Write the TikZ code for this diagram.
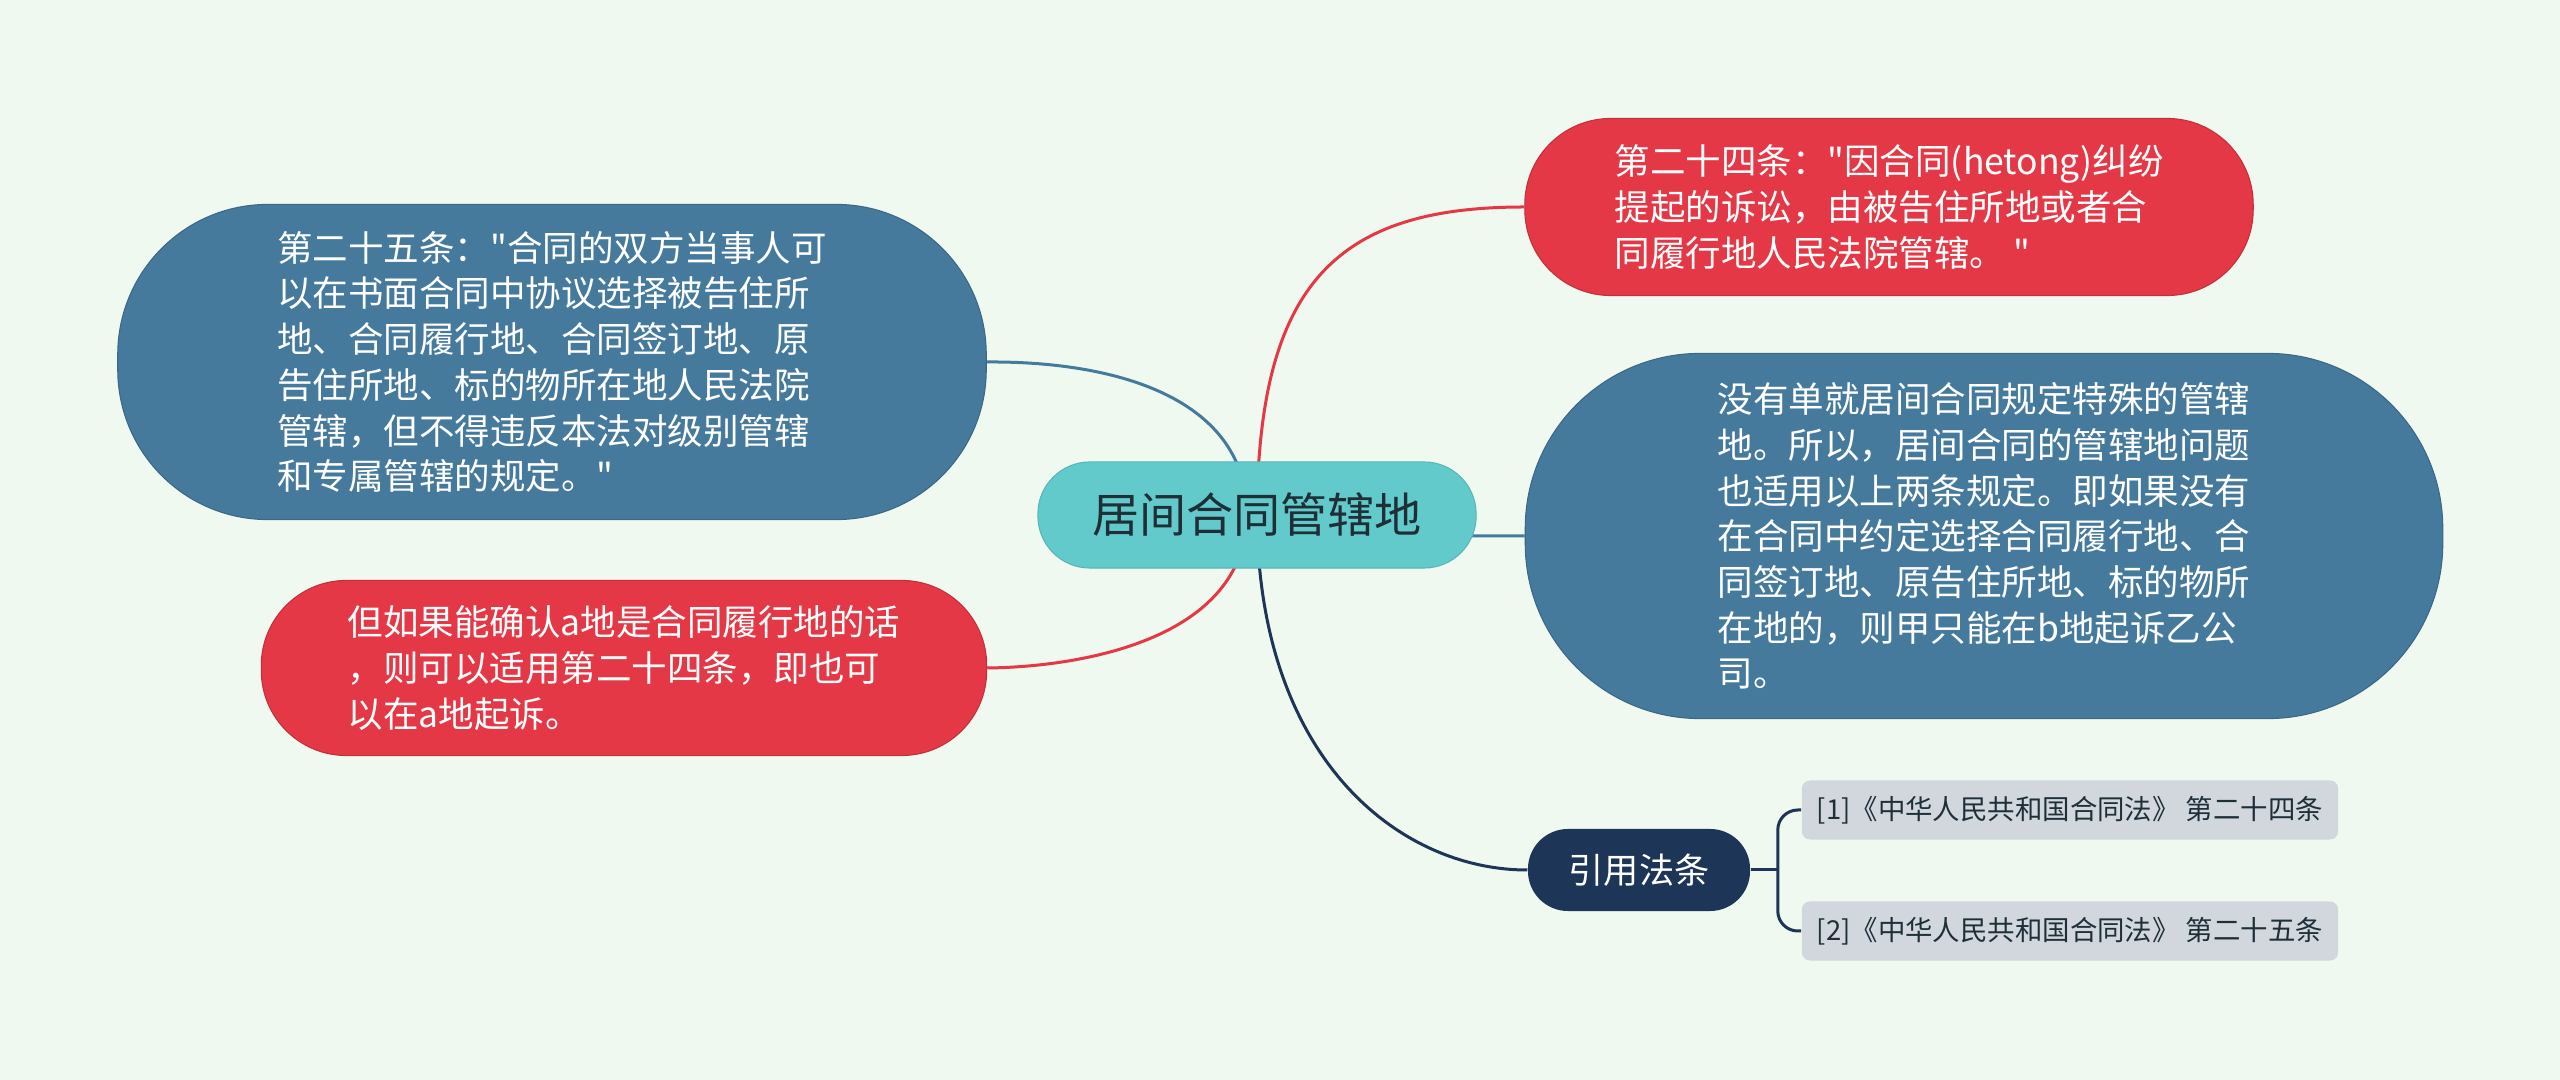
\documentclass[tikz,border=0pt]{standalone}
\usepackage{fontspec}
\setmainfont{Noto Sans CJK SC}[Ligatures=TeXOff]
\usepackage{tikz}
\usetikzlibrary{positioning, backgrounds}
\definecolor{bgmint}{HTML}{F0F9EF}
\definecolor{topicblue}{HTML}{457A9D}
\definecolor{topicred}{HTML}{E43846}
\definecolor{rootteal}{HTML}{63CACC}
\definecolor{citenavy}{HTML}{1D3557}
\definecolor{leafgray}{HTML}{D2D7DE}
\definecolor{darktext}{HTML}{1F2F38}
\tikzstyle{link} = [line width=0.03cm]
\newcommand{\bodyfont}{\fontsize{10.1}{13}\selectfont}

\begin{document}
\begin{tikzpicture}[x=0.01cm, y=-0.01cm,
    topic/.style={rectangle, fill=#1, draw=#1!85!black, line width=0.3pt,
                  text=white, font=\bodyfont, align=left, inner sep=0pt},
    leaf/.style={rectangle, rounded corners=0.08cm, fill=leafgray, text=darktext,
                 font=\fontsize{7.8}{10}\selectfont, minimum width=5.36cm,
                 minimum height=0.59cm, inner sep=0pt}
]
  \useasboundingbox (0,0) rectangle (2560,1080);

  % --- centre ---
  \node[fill=rootteal, draw=rootteal!90!black, line width=0.3pt, text=darktext,
        font=\fontsize{13.4}{16}\selectfont, minimum width=4.38cm,
        minimum height=1.06cm, rounded corners=0.52cm, inner sep=0pt]
        (root) at (1257,515) {居间合同管辖地};

  % --- left branches ---
  \node[topic=topicblue, minimum width=8.68cm, minimum height=3.15cm,
        rounded corners=1.5cm] (art25) at (552,362)
        {第二十五条："合同的双方当事人可\\以在书面合同中协议选择被告住所\\地、合同履行地、合同签订地、原\\告住所地、标的物所在地人民法院\\管辖，但不得违反本法对级别管辖\\和专属管辖的规定。"};
  \node[topic=topicred, minimum width=7.25cm, minimum height=1.75cm,
        rounded corners=0.85cm] (caseA) at (624,668)
        {但如果能确认a地是合同履行地的话\\，则可以适用第二十四条，即也可\\以在a地起诉。};

  % --- right branches ---
  \node[topic=topicred, minimum width=7.28cm, minimum height=1.77cm,
        rounded corners=0.86cm] (art24) at (1889,207)
        {第二十四条："因合同(hetong)纠纷\\提起的诉讼，由被告住所地或者合\\同履行地人民法院管辖。 "};
  \node[topic=topicblue, minimum width=9.17cm, minimum height=3.65cm,
        rounded corners=1.75cm] (noRule) at (1984,536)
        {没有单就居间合同规定特殊的管辖\\地。所以，居间合同的管辖地问题\\也适用以上两条规定。即如果没有\\在合同中约定选择合同履行地、合\\同签订地、原告住所地、标的物所\\在地的，则甲只能在b地起诉乙公\\司。};
  \node[fill=citenavy, text=white, font=\fontsize{10}{12}\selectfont,
        minimum width=2.22cm, minimum height=0.82cm, rounded corners=0.4cm,
        inner sep=0pt] (cite) at (1639,870) {引用法条};

  % --- references ---
  \node[leaf] (ref24) at (2070,810) {[1]《中华人民共和国合同法》 第二十四条};
  \node[leaf] (ref25) at (2070,931) {[2]《中华人民共和国合同法》 第二十五条};

  % --- connectors ---
  \begin{scope}[on background layer]
    \fill[bgmint] (0,0) rectangle (2560,1080);
    \draw[link, topicblue] ([xshift=-0.1cm]root.center) .. controls (1247,400) and (1120,361) .. (art25.east);
    \draw[link, topicred] ([xshift=-0.1cm]root.center) .. controls (1245,640) and (1080,667) .. (caseA.east);
    \draw[link, topicred] (root.center) .. controls (1258,280) and (1340,207) .. (art24.west);
    \draw[link, topicblue] (root.center) .. controls (1350,536) and (1450,536) .. (noRule.west);
    \draw[link, citenavy] (root.center) .. controls (1258,760) and (1400,870) .. (cite.west);
  \end{scope}
  \coordinate (fork) at ([xshift=0.27cm]cite.east);
  \draw[link, citenavy] (cite.east) -- (fork);
  \draw[link, citenavy, rounded corners=0.2cm] (ref24.west) -| (fork) |- (ref25.west);
\end{tikzpicture}
\end{document}
